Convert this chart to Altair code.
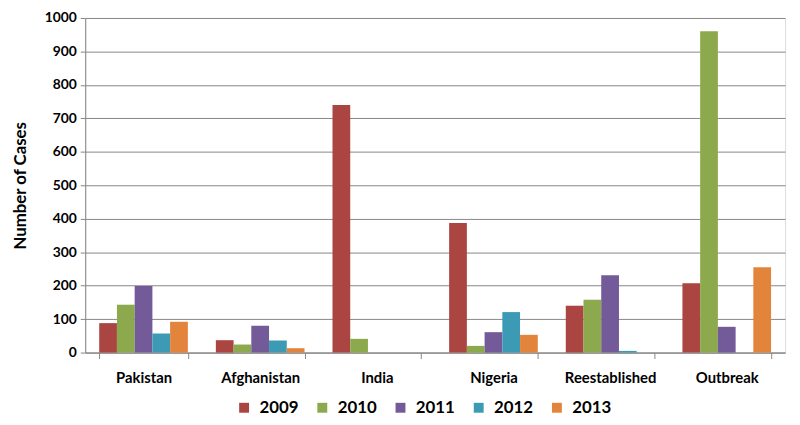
import altair as alt
import pandas as pd

categories = ["Pakistan", "Afghanistan", "India", "Nigeria", "Reestablished", "Outbreak"]
years = ["2009", "2010", "2011", "2012", "2013"]
v2009 = [88, 37, 740, 387, 140, 207]
v2010 = [143, 24, 41, 20, 158, 960]
v2011 = [199, 80, 0, 61, 231, 77]
v2012 = [57, 36, 0, 121, 5, 0]
v2013 = [92, 13, 0, 53, 0, 255]
colors = ["#AB4541", "#8CA94D", "#735A98", "#3D9AB5", "#E2843B"]

series = [v2009, v2010, v2011, v2012, v2013]
rows = []
for y, vals in zip(years, series):
    for c, v in zip(categories, vals):
        rows.append({"Category": c, "Year": y, "Cases": v})
df = pd.DataFrame(rows)

FONT = "Lato"

chart = alt.Chart(df).mark_bar().encode(
    x=alt.X("Category:N", sort=categories, title=None,
            scale=alt.Scale(paddingInner=0.24, paddingOuter=0.12),
            axis=alt.Axis(labelAngle=0, labelFontSize=15, labelFontWeight="bold",
                          labelColor="#000000", labelFont=FONT, labelPadding=12,
                          tickBand="extent", tickSize=6, tickColor="#868686",
                          domainColor="#868686", grid=False)),
    xOffset=alt.XOffset("Year:N", sort=years, scale=alt.Scale(paddingInner=0, paddingOuter=0)),
    y=alt.Y("Cases:Q", title="Number of Cases",
            scale=alt.Scale(domain=[0, 1000], nice=False),
            axis=alt.Axis(values=list(range(0, 1001, 100)), format="d", labelFontSize=14,
                          labelFontWeight="bold", labelColor="#000000", labelFont=FONT,
                          labelPadding=4, tickSize=5, tickColor="#868686",
                          domainColor="#868686", gridColor="#868686", gridWidth=1,
                          titleFontSize=17, titleFontWeight="bold", titleFont=FONT,
                          titleColor="#000000", titlePadding=15)),
    color=alt.Color("Year:N", sort=years,
                    scale=alt.Scale(domain=years, range=colors),
                    legend=alt.Legend(title=None, orient="none", direction="horizontal",
                                      legendX=152, legendY=385, symbolType="square",
                                      symbolSize=100, symbolStrokeWidth=0,
                                      labelFontSize=17, labelFontWeight="bold",
                                      labelFont=FONT, labelColor="#000000",
                                      labelOffset=7, columnPadding=15)),
).properties(
    width=707, height=338,
    autosize=alt.AutoSizeParams(type="none"),
    padding={"left": 78, "top": 8, "right": 7, "bottom": 63},
).configure_view(stroke=None).configure(background="white")

chart.save("out.html", embed_options={"renderer": "svg", "actions": False})
